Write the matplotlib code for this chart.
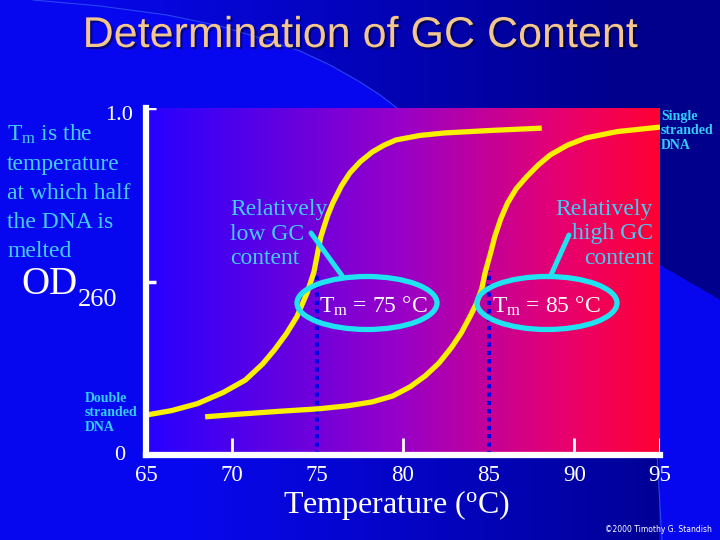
import numpy as np
import matplotlib
matplotlib.use('Agg')
import matplotlib.pyplot as plt
from matplotlib.colors import LinearSegmentedColormap
from matplotlib.patches import Ellipse
import matplotlib.patheffects as pe

plt.rcParams['font.family'] = 'Liberation Serif'
plt.rcParams['mathtext.fontset'] = 'custom'
plt.rcParams['mathtext.rm'] = 'Liberation Serif'
plt.rcParams['mathtext.it'] = 'Liberation Serif:italic'

# ------------------------------------------------------------
#  data
# ------------------------------------------------------------
temp_low = [65.0, 66.5, 68.0, 69.5, 70.8, 71.8, 72.5, 73.2, 73.8, 74.4, 74.8,
            75.2, 75.6, 75.9, 76.4, 76.9, 77.5, 78.2, 78.9, 79.6, 81.0, 82.4,
            85.0, 88.1]
od_low = [0.115, 0.128, 0.148, 0.180, 0.216, 0.262, 0.303, 0.350, 0.398, 0.467,
          0.527, 0.628, 0.690, 0.726, 0.775, 0.813, 0.845, 0.873, 0.893, 0.908,
          0.921, 0.928, 0.935, 0.942]

temp_high = [68.45, 70.5, 72.8, 75.05, 76.8, 78.2, 79.4, 80.4, 81.3, 82.1, 82.8,
             83.4, 83.9, 84.3, 84.6, 84.8, 85.1, 85.35, 85.7, 86.1, 86.6, 87.2,
             87.9, 88.6, 89.6, 90.7, 92.5, 95.0]
od_high = [0.110, 0.118, 0.126, 0.133, 0.142, 0.153, 0.170, 0.196, 0.228, 0.265,
           0.308, 0.352, 0.398, 0.438, 0.480, 0.527, 0.580, 0.628, 0.680, 0.726,
           0.767, 0.801, 0.836, 0.865, 0.893, 0.914, 0.932, 0.945]

tm_values = [75, 85]
tm_top = 0.53
tm_labels = ['T$_\\mathrm{m}$ = 75 °C', 'T$_\\mathrm{m}$ = 85 °C']
x_ticks = [65, 70, 75, 80, 85, 90, 95]
x_tick_marks = [70, 80, 90, 95]
y_tick_marks = [0.5, 1.0]

left_lines = ['T$_\\mathrm{m}$ is the', 'temperature', 'at which half',
              'the DNA is', 'melted']

# colours
BLUE = np.array([0.03, 0.03, 0.94])
NAVY = np.array([0.0, 0.0, 0.55])
CYAN_TXT = '#44cdf2'
CYAN_LBL = '#33ccff'
CYAN_RING = '#1fe3f0'
YELLOW = '#f8f000'
TITLE_COL = '#f2c68c'

W, H = 720, 540
fig = plt.figure(figsize=(7.2, 5.4), dpi=100)

# ------------------------------------------------------------
#  slide background
# ------------------------------------------------------------
bg = fig.add_axes([0, 0, 1, 1], zorder=0)
xx, yy = np.meshgrid(np.arange(W) + 0.5, np.arange(H) + 0.5)
arc_x = [0, 33, 100, 167, 220, 267, 300, 330, 360, 380, 397, 720]
arc_y = [-10, 0, 6, 15, 26, 40, 51, 65, 82, 95, 108, 108]
d = np.zeros((H, W))
top = yy < np.interp(xx, arc_x, arc_y)
d[top] = np.clip((xx[top] - 60) / 560, 0, 1)
right = (xx > 660) & (yy < 265 + (xx - 660) * 0.58)
d[right] = 1.0
bottom = (yy > 458) & (xx < 659)
d[bottom] = np.clip((xx[bottom] - 180) / 480, 0, 1) * 0.9
img = BLUE[None, None, :] * (1 - d[..., None]) + NAVY[None, None, :] * d[..., None]
bg.imshow(img, extent=[0, W, H, 0], aspect='auto', interpolation='bilinear')
bg.plot(arc_x[1:11], arc_y[1:11], color='#2f55f5', lw=0.8, alpha=0.8)
bg.plot([657, 662], [455, 540], color='#2f55f5', lw=0.8, alpha=0.8)
bg.set_xlim(0, W)
bg.set_ylim(H, 0)
bg.axis('off')

# ------------------------------------------------------------
#  melting curves
# ------------------------------------------------------------
ax = fig.add_axes([146 / W, (H - 455) / H, 514 / W, 347 / H], zorder=1)
cmap = LinearSegmentedColormap.from_list(
    'heat', [(0.0, (0.15, 0.0, 1.0)), (0.5, (0.6, 0.0, 0.78)),
             (0.8, (0.9, 0.0, 0.45)), (1.0, (1.0, 0.0, 0.2))])
ax.imshow(np.linspace(0, 1, 256)[None, :], extent=[65, 95, 0, 1],
          aspect='auto', cmap=cmap, zorder=0)

ax.plot(temp_low, od_low, color=YELLOW, lw=3.8, solid_capstyle='butt',
        solid_joinstyle='round', zorder=3)
ax.plot(temp_high, od_high, color=YELLOW, lw=3.8, solid_capstyle='butt',
        solid_joinstyle='round', zorder=3)
ax.vlines(tm_values, 0, tm_top, color='#0000e8', lw=3,
          linestyles=[(0, (1, 1))], zorder=2)
ax.vlines(x_tick_marks, 0, 0.05, color='white', lw=2, zorder=4)
ax.hlines(y_tick_marks, 65, 65.6, color='white', lw=2.5, zorder=4)

ax.set_xlim(65, 95)
ax.set_ylim(0, 1)
ax.set_xticks(x_ticks)
ax.set_xticklabels([str(t) for t in x_ticks])
ax.set_yticks([])
ax.tick_params(axis='x', length=0, pad=7, labelsize=16.5, labelcolor='white')
for s in ['top', 'right']:
    ax.spines[s].set_visible(False)
for s in ['left', 'bottom']:
    ax.spines[s].set_color('white')
    ax.spines[s].set_linewidth(4.5)
    ax.spines[s].set_zorder(5)

# ------------------------------------------------------------
#  text and annotations (slide pixel coordinates)
# ------------------------------------------------------------
ov = fig.add_axes([0, 0, 1, 1], zorder=2)
ov.set_xlim(0, W)
ov.set_ylim(H, 0)
ov.axis('off')

ov.text(360, 47, 'Determination of GC Content', ha='center', va='baseline',
        fontsize=31, color=TITLE_COL, family='Liberation Sans',
        path_effects=[pe.withSimplePatchShadow(offset=(1.5, -1.5),
                                               shadow_rgbFace='black', alpha=0.45)])

for i, line in enumerate(left_lines):
    ov.text(7, 141 + 29 * i, line, ha='left', va='baseline', fontsize=17,
            color=CYAN_TXT)

ov.text(133, 115, '1.0', ha='right', va='center', fontsize=16, color='white')
ov.text(120, 456, '0', ha='center', va='center', fontsize=16, color='white')
ov.text(21, 294, 'OD', ha='left', va='baseline', fontsize=28, color='white')
ov.text(78, 306, '260', ha='left', va='baseline', fontsize=19, color='white')

ov.text(85, 413, 'Double\nstranded\nDNA', ha='left', va='center', fontsize=10,
        fontweight='bold', color=CYAN_LBL, linespacing=1.15)
ov.text(661, 131, 'Single\nstranded\nDNA', ha='left', va='center', fontsize=10,
        fontweight='bold', color=CYAN_LBL, linespacing=1.15)

ov.text(396, 505, 'Temperature ($^\\mathrm{o}$C)', ha='center', va='center',
        fontsize=23, color='white')
ov.text(712, 530, '©2000 Timothy G. Standish', ha='right', va='center',
        fontsize=5.5, color='white', family='DejaVu Sans')

ov.text(230, 234, 'Relatively\nlow GC\ncontent', ha='left', va='center',
        fontsize=17, color=CYAN_TXT, linespacing=1.2)
ov.text(653, 234, 'Relatively\nhigh GC\ncontent', ha='right', va='center',
        multialignment='right', fontsize=17, color=CYAN_TXT, linespacing=1.2)

# callouts
for cx, x0, y0, x1, y1 in [(367, 311, 233, 343, 277), (547, 569, 235, 551, 275)]:
    ov.plot([x0, x1], [y0, y1], color=CYAN_RING, lw=3.6, solid_capstyle='round')
    ov.add_patch(Ellipse((cx, 303), 140, 53, fill=False, ec=CYAN_RING, lw=3.8))

for x, lab in zip([319, 492], tm_labels):
    ov.text(x, 313, lab, ha='left', va='baseline', fontsize=17, color='white')

fig.savefig('out.png', dpi=100)
